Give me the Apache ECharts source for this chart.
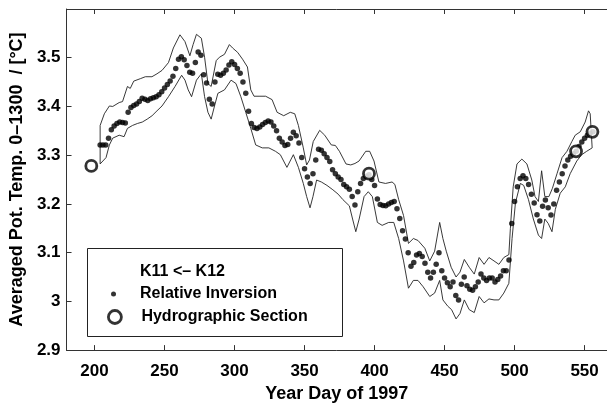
<!DOCTYPE html>
<html>
<head>
<meta charset="utf-8">
<script src="https://cdn.jsdelivr.net/npm/echarts@6/dist/echarts.min.js"></script>
<style>
html,body{margin:0;padding:0;background:#fff;}
#chart{width:607px;height:408px;}
</style>
</head>
<body>
<div id="chart"></div>
<script>
// ---- data ----
const xTicks = [200, 250, 300, 350, 400, 450, 500, 550];
const yTicks = [2.9, 3.0, 3.1, 3.2, 3.3, 3.4, 3.5];

const inversionStartDay = 204;
const inversionStepDays = 2;
const inversionTemp = [
  3.321, 3.321, 3.321, 3.335, 3.352, 3.360, 3.365, 3.368, 3.367, 3.366,
  3.388, 3.398, 3.402, 3.405, 3.410, 3.417, 3.415, 3.412, 3.416, 3.418,
  3.420, 3.424, 3.430, 3.438, 3.445, 3.452, 3.462, 3.478, 3.497, 3.502,
  3.496, 3.484, 3.470, 3.468, 3.490, 3.512, 3.505, 3.465, 3.448, 3.415,
  3.405, 3.450, 3.466, 3.464, 3.468, 3.475, 3.485, 3.492, 3.486, 3.478,
  3.468, 3.450, 3.427, 3.390, 3.365, 3.357, 3.355, 3.358, 3.363, 3.367,
  3.370, 3.368, 3.360, 3.350, 3.335, 3.327, 3.320, 3.322, 3.335, 3.347,
  3.340, 3.325, 3.295, 3.272, 3.255, 3.242, 3.262, 3.290, 3.312, 3.310,
  3.303, 3.295, 3.287, 3.270, 3.262, 3.255, 3.250, 3.240, 3.235, 3.230,
  3.215, 3.198, 3.225, 3.242, 3.252, 3.257, 3.260, 3.250, 3.238, 3.210,
  3.199, 3.197, 3.196, 3.200, 3.203, 3.205, 3.190, 3.170, 3.145, 3.128,
  3.100, 3.072, 3.080, 3.095, 3.098, 3.092, 3.078, 3.060, 3.048, 3.060,
  3.076, 3.100, 3.063, 3.048, 3.038, 3.030, 3.040, 3.012, 3.003, 3.035,
  3.050, 3.032, 3.025, 3.023, 3.030, 3.040, 3.056, 3.048, 3.043, 3.048,
  3.048, 3.040, 3.045, 3.052, 3.063, 3.063, 3.085, 3.160, 3.205, 3.235,
  3.252, 3.258, 3.252, 3.240, 3.220, 3.202, 3.178, 3.165, 3.195, 3.208,
  3.192, 3.177, 3.200, 3.228, 3.245, 3.262, 3.278, 3.290, 3.298, 3.303,
  3.308, 3.318, 3.327, 3.335, 3.341, 3.345, 3.348
];

const sectionDays = [197.7, 396, 543.9, 555.6];
const sectionTemp = [3.278, 3.262, 3.308, 3.348];

const upperDays = [204, 207, 210.6, 213, 217.6, 220, 223.5, 225.5, 228, 232.7,
  236.3, 241, 244.6, 248.2, 252.8, 256.3, 261, 264.6, 268.1, 270.4,
  272.8, 276.3, 278.6, 281, 283.3, 286.9, 289.2, 292.8, 296.3, 298.6,
  302.2, 305.7, 309.2, 311.6, 313.9, 317.5, 322.2, 326.8, 330.4, 335.1,
  339.8, 343, 345.6, 349.1, 351.5, 353.5, 356.2, 360.8, 364.4, 369.1,
  372, 374.9, 379.6, 383, 386, 388.9, 393.7, 396.5, 399.6, 403.1,
  407.8, 412.5, 414.5, 417.2, 420.7, 424.2, 427.7, 431, 435.9, 439.4,
  442.9, 446.5, 448.8, 451.2, 454.7, 458.2, 461, 464.1, 467.6, 471.2,
  474.7, 478.2, 481.7, 485.3, 488.8, 492.3, 495.9, 497, 499, 501.7,
  505.2, 508.8, 512.3, 514.6, 517, 519.3, 521.6, 524.5, 527, 530.3,
  533.9, 537.4, 540.9, 543.3, 546.9, 550.4, 552.8, 554, 555.4];
const upperTemp = [3.361, 3.385, 3.401, 3.400, 3.408, 3.410, 3.441, 3.437, 3.452, 3.457,
  3.461, 3.461, 3.467, 3.474, 3.490, 3.520, 3.547, 3.533, 3.504, 3.527,
  3.548, 3.540, 3.501, 3.447, 3.441, 3.494, 3.501, 3.507, 3.527, 3.520,
  3.511, 3.497, 3.481, 3.434, 3.421, 3.421, 3.421, 3.414, 3.388, 3.381,
  3.388, 3.385, 3.361, 3.315, 3.280, 3.290, 3.328, 3.351, 3.341, 3.321,
  3.320, 3.308, 3.282, 3.280, 3.283, 3.288, 3.308, 3.308, 3.288, 3.245,
  3.242, 3.245, 3.240, 3.209, 3.176, 3.119, 3.129, 3.125, 3.109, 3.083,
  3.103, 3.162, 3.129, 3.103, 3.070, 3.050, 3.060, 3.086, 3.070, 3.056,
  3.090, 3.076, 3.090, 3.083, 3.076, 3.090, 3.096, 3.150, 3.235, 3.282,
  3.292, 3.282, 3.249, 3.215, 3.205, 3.268, 3.215, 3.215, 3.232, 3.262,
  3.295, 3.308, 3.328, 3.341, 3.348, 3.368, 3.391, 3.385, 3.315];

const lowerDays = [204, 208.2, 210.6, 213, 217.6, 221.1, 223.5, 227.1, 230.6, 234.1,
  237.6, 241.1, 244.6, 248.2, 252.8, 257.5, 262.2, 264.6, 266.9, 269.3,
  272.8, 276.3, 278.6, 281, 283.3, 285.7, 288.1, 292.8, 297.5, 301,
  304.5, 308, 311.6, 315.1, 319.8, 324.5, 329.2, 332.7, 337.4, 342,
  345.6, 349.1, 351.5, 353.9, 356, 358.6, 362, 366, 370.2, 374,
  377.3, 382, 384.3, 386.6, 389, 392.5, 395.5, 398.4, 402, 405.4,
  410.1, 413.7, 417.2, 420.7, 424.2, 427.7, 431, 434.7, 439.4, 442.9,
  446.5, 448.8, 452.3, 455, 458.2, 461, 464.1, 467.6, 471.2, 474.7,
  478.2, 481.7, 485.3, 488.8, 492.3, 495.9, 498.2, 500.6, 504.1, 506.5,
  509.9, 513.4, 517, 519.3, 521.6, 524, 526.7, 529.1, 532.6, 536.2,
  539.7, 544.4, 547.9, 551.5, 555];
const lowerTemp = [3.282, 3.295, 3.321, 3.335, 3.341, 3.338, 3.355, 3.361, 3.365, 3.368,
  3.374, 3.381, 3.391, 3.401, 3.420, 3.441, 3.464, 3.454, 3.434, 3.420,
  3.454, 3.467, 3.420, 3.388, 3.374, 3.401, 3.427, 3.434, 3.454, 3.447,
  3.420, 3.388, 3.355, 3.321, 3.315, 3.315, 3.308, 3.301, 3.275, 3.301,
  3.275, 3.242, 3.215, 3.192, 3.215, 3.249, 3.245, 3.238, 3.229, 3.220,
  3.209, 3.196, 3.169, 3.143, 3.169, 3.215, 3.225, 3.215, 3.162, 3.156,
  3.162, 3.162, 3.129, 3.083, 3.027, 3.043, 3.043, 3.030, 3.010, 3.017,
  3.043, 3.003, 2.990, 2.983, 2.964, 2.975, 3.003, 2.983, 2.977, 3.010,
  2.997, 3.005, 3.003, 3.003, 3.017, 3.037, 3.129, 3.202, 3.242, 3.238,
  3.209, 3.169, 3.136, 3.129, 3.169, 3.160, 3.143, 3.189, 3.222, 3.235,
  3.262, 3.288, 3.301, 3.308, 3.315];

// ---- build series data ----
const inversionData = inversionTemp.map((v, i) => [inversionStartDay + inversionStepDays * i, v]);
const sectionData = sectionDays.map((d, i) => [d, sectionTemp[i]]);
const envelopeData = [];
upperDays.forEach((d, i) => envelopeData.push([d, upperTemp[i]]));
for (let i = lowerDays.length - 1; i >= 0; i--) envelopeData.push([lowerDays[i], lowerTemp[i]]);
envelopeData.push([upperDays[0], upperTemp[0]]);

const FONT = '"Liberation Sans", Arial, Helvetica, sans-serif';
const AXC = '#333';
const circleStyle = {color: '#fff', borderColor: '#000', borderWidth: 2.8};

const chart = echarts.init(document.getElementById('chart'), null, {renderer: 'canvas'});
chart.setOption({
  animation: false,
  backgroundColor: '#fff',
  grid: {left: 59, right: -1, top: 9, bottom: 45, containLabel: false},
  xAxis: [{
    type: 'value', min: 180, max: 566, position: 'bottom',
    name: 'Year Day of 1997', nameLocation: 'middle', nameGap: 30,
    nameTextStyle: {fontFamily: FONT, fontWeight: 'bold', fontSize: 18, color: '#000'},
    axisLine: {show: true, lineStyle: {color: AXC, width: 1}},
    axisTick: {show: true, inside: true, length: 5, customValues: xTicks, lineStyle: {color: AXC}},
    axisLabel: {show: true, customValues: xTicks, margin: 13, fontFamily: FONT, fontWeight: 'bold', fontSize: 17, color: '#000'},
    splitLine: {show: false}
  }, {
    type: 'value', min: 180, max: 566, position: 'top',
    axisLine: {show: true, lineStyle: {color: AXC, width: 1}},
    axisTick: {show: true, inside: true, length: 5, customValues: xTicks, lineStyle: {color: AXC}},
    axisLabel: {show: false},
    splitLine: {show: false}
  }],
  yAxis: [{
    type: 'value', min: 2.9, max: 3.6, position: 'left',
    name: 'Averaged Pot. Temp. 0\u20131300  / [\u00b0C]', nameLocation: 'middle', nameGap: 25,
    nameTextStyle: {fontFamily: FONT, fontWeight: 'bold', fontSize: 18, color: '#000'},
    axisLine: {show: true, lineStyle: {color: AXC, width: 1}},
    axisTick: {show: true, inside: true, length: 5, customValues: yTicks, lineStyle: {color: AXC}},
    axisLabel: {show: true, customValues: yTicks, margin: 6, fontFamily: FONT, fontWeight: 'bold', fontSize: 17, color: '#000',
      formatter: v => String(Math.round(v * 10) / 10)},
    splitLine: {show: false}
  }],
  legend: [{
    left: 111, top: 286, orient: 'vertical', padding: 0,
    itemWidth: 5, itemHeight: 5,
    data: [{name: 'Relative Inversion', itemStyle: {color: '#000'}}],
    textStyle: {fontFamily: FONT, fontWeight: 'bold', fontSize: 16, color: '#000', padding: [0, 0, 0, 19]},
    selectedMode: false
  }, {
    left: 107, top: 309, orient: 'vertical', padding: 0,
    itemWidth: 13, itemHeight: 13,
    data: [{name: 'Hydrographic Section', itemStyle: circleStyle}],
    textStyle: {fontFamily: FONT, fontWeight: 'bold', fontSize: 16, color: '#000', padding: [0, 0, 0, 15]},
    selectedMode: false
  }],
  graphic: [{
    type: 'rect', z: 1,
    shape: {x: 87.5, y: 248.5, width: 255, height: 88},
    style: {fill: '#fff', stroke: '#222', lineWidth: 1}
  }, {
    type: 'text', z: 2, x: 140, y: 272,
    style: {text: 'K11 <\u2013 K12', font: 'bold 16px ' + FONT, fill: '#000', verticalAlign: 'middle', align: 'left'}
  }],
  series: [{
    name: 'Envelope', type: 'line', data: envelopeData,
    symbol: 'none', showSymbol: false, silent: true,
    lineStyle: {color: '#222', width: 0.9}, z: 2
  }, {
    name: 'Relative Inversion', type: 'scatter', data: inversionData,
    symbol: 'circle', symbolSize: 5.5,
    itemStyle: {color: '#000'}, z: 3
  }, {
    name: 'Hydrographic Section', type: 'scatter', data: sectionData,
    symbol: 'circle', symbolSize: 11,
    itemStyle: circleStyle, z: 4
  }]
});
</script>
</body>
</html>
